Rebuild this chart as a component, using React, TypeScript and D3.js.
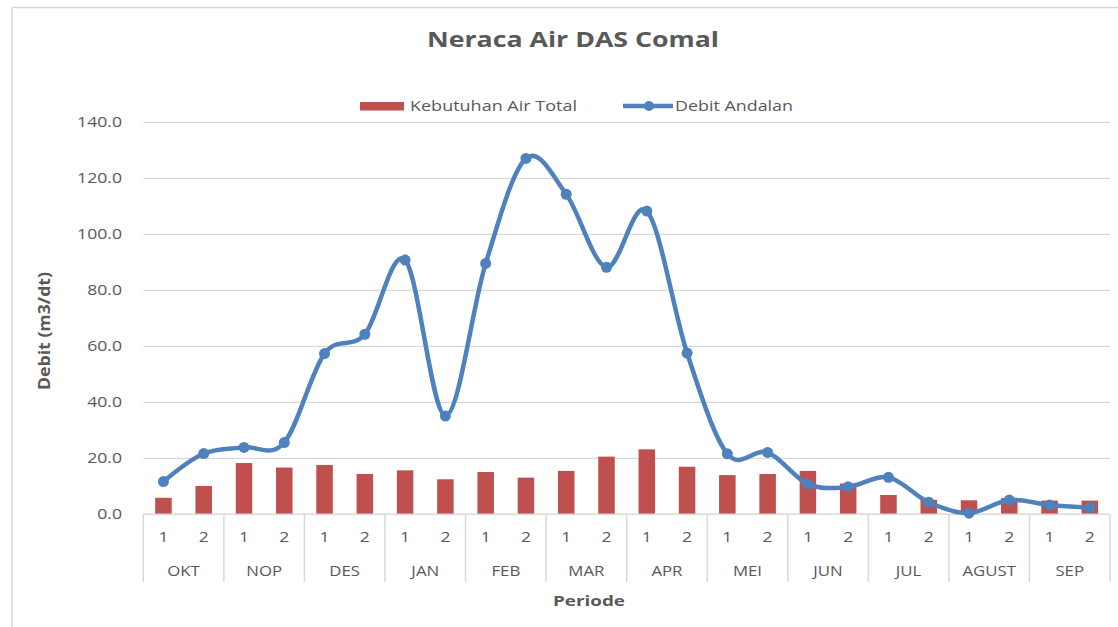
import React from "react";
import * as d3 from "d3";

const months = ["OKT", "NOP", "DES", "JAN", "FEB", "MAR", "APR", "MEI", "JUN", "JUL", "AGUST", "SEP"];
const halves = ["1", "2"];
const kebutuhanAirTotal = [5.9, 10.1, 18.3, 16.7, 17.6, 14.4, 15.7, 12.5, 15.1, 13.1, 15.5, 20.6, 23.2, 17.0, 14.0, 14.4, 15.5, 11.0, 6.9, 5.2, 5.0, 5.8, 4.9, 4.9];
const debitAndalan = [11.7, 21.7, 23.9, 25.6, 57.4, 64.3, 90.8, 35.1, 89.6, 127.1, 114.3, 88.2, 108.3, 57.6, 21.6, 22.1, 10.8, 9.8, 13.2, 4.3, 0.4, 5.1, 3.3, 2.4];
const yTicks = [0, 20, 40, 60, 80, 100, 120, 140];

const W = 1118, H = 627;
const left = 143.3, right = 1110, top = 122.3, bottom = 514.3;
const FONT = "'Open Sans', sans-serif";
const TXT = "#595959";
const GRID = "#d9d9d9";
const RED = "#C0504D";
const BLUE = "#4F81BD";

function SText(props: { x: number; y: number; sx?: number; anchor?: string; size: number; bold?: boolean; children: any; len?: number }) {
  const { x, y, sx = 1.25, anchor = "middle", size, bold, children, len } = props;
  const tr = `translate(${x},${y}) scale(${len ? 1 : sx},1)`;
  return (
    <text transform={tr} textAnchor={anchor} fontFamily={FONT} fontSize={size} fontWeight={bold ? 700 : 400} fill={TXT}
      {...(len ? { textLength: len, lengthAdjust: "spacingAndGlyphs" } : {})}>
      {children}
    </text>
  );
}

export default function App() {
  const periods = months.flatMap((m) => halves.map((h) => `${m}-${h}`));
  const x = d3.scaleBand<string>().domain(periods).range([left, right]).padding(0);
  const y = d3.scaleLinear().domain([0, 140]).range([bottom, top]);
  const bw = x.bandwidth() * 0.41;
  const cx = (i: number) => (x(periods[i]) as number) + x.bandwidth() / 2;
  const line = d3.line<number>().x((_, i) => cx(i)).y((d) => y(d)).curve(d3.curveCardinal.tension(0));
  const monthW = x.bandwidth() * 2;

  return (
    <svg width={W} height={H} style={{ position: "absolute", left: 0, top: 0 }}>
      <rect x={0} y={0} width={W} height={H} fill="#fff" />
      <line x1={12} y1={7.5} x2={W} y2={7.5} stroke={GRID} strokeWidth={1.5} />
      <line x1={12} y1={7.5} x2={12} y2={H} stroke={GRID} strokeWidth={1.5} />

      <SText x={573} y={46.5} size={20.5} bold len={292} anchor="middle">Neraca Air DAS Comal</SText>

      {/* legend */}
      <rect x={360} y={102} width={44} height={8.5} fill={RED} />
      <SText x={410} y={111} size={14} len={167} anchor="start">Kebutuhan Air Total</SText>
      <line x1={623} y1={106} x2={673} y2={106} stroke={BLUE} strokeWidth={4.5} />
      <circle cx={649} cy={106} r={5} fill={BLUE} />
      <SText x={675} y={111} size={14} len={118} anchor="start">Debit Andalan</SText>

      {/* gridlines */}
      {yTicks.map((t) => (
        <g key={t}>
          {t > 0 && <line x1={left} x2={right} y1={y(t)} y2={y(t)} stroke={GRID} strokeWidth={1.3} />}
          <SText x={122} y={y(t) + 5} size={14} anchor="end" sx={1.26}>{t.toFixed(1)}</SText>
        </g>
      ))}

      {/* bars */}
      {kebutuhanAirTotal.map((v, i) => (
        <rect key={i} x={cx(i) - bw / 2} y={y(v)} width={bw} height={y(0) - y(v)} fill={RED} />
      ))}

      {/* x axis */}
      <line x1={left} x2={right} y1={bottom} y2={bottom} stroke={GRID} strokeWidth={1.5} />
      {d3.range(months.length + 1).map((k) => (
        <line key={k} x1={left + k * monthW} x2={left + k * monthW} y1={bottom} y2={582} stroke={GRID} strokeWidth={1.5} />
      ))}
      {periods.map((p, i) => (
        <SText key={p} x={cx(i)} y={542} size={14}>{halves[i % 2]}</SText>
      ))}
      {months.map((m, k) => (
        <SText key={m} x={left + (k + 0.5) * monthW} y={576} size={14} sx={1.2}>{m}</SText>
      ))}

      {/* line */}
      <path d={line(debitAndalan) || ""} fill="none" stroke={BLUE} strokeWidth={4.5} strokeLinejoin="round" />
      {debitAndalan.map((v, i) => (
        <circle key={i} cx={cx(i)} cy={y(v)} r={5.5} fill={BLUE} />
      ))}

      {/* axis titles */}
      <SText x={589} y={606} size={15} bold len={72}>Periode</SText>
      <g transform={`translate(50,331) rotate(-90)`}>
        <text textAnchor="middle" fontFamily={FONT} fontSize={15.5} fontWeight={700} fill={TXT} textLength={118} lengthAdjust="spacingAndGlyphs">Debit (m3/dt)</text>
      </g>
    </svg>
  );
}
